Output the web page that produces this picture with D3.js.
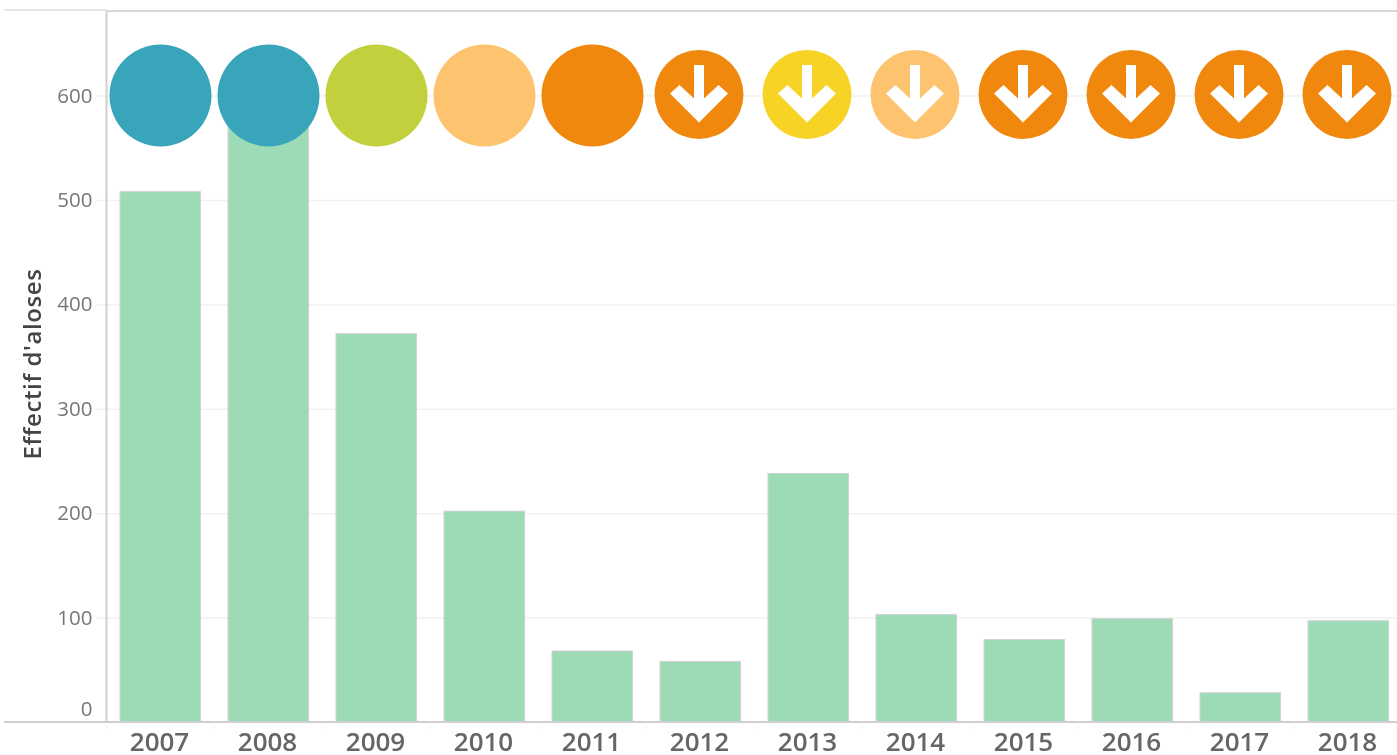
<!DOCTYPE html>
<html lang="fr">
<head>
<meta charset="utf-8">
<title>Effectif d'aloses</title>
<script src="https://cdn.jsdelivr.net/npm/d3@7"></script>
<style>
  html, body { margin: 0; padding: 0; background: #fff; overflow: hidden; }
  svg { display: block; filter: blur(0.5px); }
  text { font-family: "Open Sans", sans-serif; }
</style>
</head>
<body>
<script>
const years = ["2007", "2008", "2009", "2010", "2011", "2012", "2013", "2014", "2015", "2016", "2017", "2018"];
const counts = [508, 590, 372, 202, 68, 58, 238, 103, 79, 99, 28, 97];
const status = ["blue", "blue", "green", "pale", "orange", "orange", "yellow", "pale", "orange", "orange", "orange", "orange"];
const falling = [false, false, false, false, false, true, true, true, true, true, true, true];
const yTicks = [0, 100, 200, 300, 400, 500, 600];

const w = 1397;
const h = 755;
const left = 106.5;
const baseline = 722;

const xScale = d3.scaleBand()
  .domain(years)
  .range([left, left + 108 * years.length])
  .paddingInner(0.25)
  .paddingOuter(0.125);

const yScale = d3.scaleLinear()
  .domain([0, 600])
  .range([baseline, 95.6]);

const statusColor = d3.scaleOrdinal()
  .domain(["blue", "green", "pale", "orange", "yellow"])
  .range(["#39a5bb", "#c1d03c", "#fdc36f", "#f0880d", "#f6d325"]);

const svg = d3.select("body").append("svg")
  .attr("width", w)
  .attr("height", h);

// frame, top rule
svg.append("line")
  .attr("x1", 4).attr("x2", left)
  .attr("y1", 10).attr("y2", 10)
  .attr("stroke", "#e6e6e6").attr("stroke-width", 2);
svg.append("line")
  .attr("x1", left).attr("x2", w + 4)
  .attr("y1", 11).attr("y2", 11)
  .attr("stroke", "#d6d6d6").attr("stroke-width", 2);

// y axis with the long ticks used as grid lines
const yAxis = d3.axisLeft(yScale)
  .tickValues(yTicks.slice(1))
  .tickSize(-(w + 4 - left))
  .tickPadding(14);

const yG = svg.append("g")
  .attr("transform", "translate(" + left + ",0)")
  .call(yAxis);

yG.select(".domain").remove();
yG.selectAll(".tick line")
  .attr("x1", -10)
  .attr("stroke", "#f1f1f1")
  .attr("stroke-width", 1.5);
yG.selectAll(".tick text")
  .attr("font-size", 20.5)
  .attr("fill", "#777");

// the zero label sits above the base line
yG.append("text")
  .attr("x", -14)
  .attr("y", yScale(0) - 13)
  .attr("dy", "0.32em")
  .attr("text-anchor", "end")
  .attr("font-size", 20.5)
  .attr("fill", "#777")
  .text(yTicks[0]);

svg.append("line")
  .attr("x1", left).attr("x2", left)
  .attr("y1", 11).attr("y2", baseline)
  .attr("stroke", "#cfcfcf").attr("stroke-width", 2);

// bars
svg.selectAll("rect.bar")
  .data(years)
  .enter()
  .append("rect")
  .attr("class", "bar")
  .attr("x", (d) => xScale(d))
  .attr("y", (d, i) => yScale(counts[i]))
  .attr("width", xScale.bandwidth() - 0.5)
  .attr("height", (d, i) => baseline - yScale(counts[i]))
  .attr("fill", "#9cdbb5")
  .attr("stroke", "#d2d2d2")
  .attr("stroke-width", 1);

// x axis
const xAxis = d3.axisBottom(xScale)
  .tickSize(0)
  .tickPadding(11);

const xG = svg.append("g")
  .attr("transform", "translate(-1," + baseline + ")")
  .call(xAxis);

xG.select(".domain").remove();
xG.selectAll(".tick text")
  .attr("font-size", 26)
  .attr("font-weight", 600)
  .attr("fill", "#666");

svg.append("line")
  .attr("x1", 4).attr("x2", w + 4)
  .attr("y1", baseline).attr("y2", baseline)
  .attr("stroke", "#cfcfcf").attr("stroke-width", 2);

// small marks under the base line, between the years
svg.selectAll("line.notch")
  .data(years)
  .enter()
  .append("line")
  .attr("class", "notch")
  .attr("x1", (d) => xScale(d) - xScale.step() * 0.125)
  .attr("x2", (d) => xScale(d) - xScale.step() * 0.125)
  .attr("y1", baseline + 4)
  .attr("y2", baseline + 7)
  .attr("stroke", "#eeeeee");

// status badges
const badges = svg.selectAll("g.badge")
  .data(years)
  .enter()
  .append("g")
  .attr("class", "badge")
  .attr("transform", (d, i) => "translate(" + (xScale(d) + xScale.bandwidth() / 2 - (falling[i] ? 1.5 : 0)) + "," + (falling[i] ? 94.5 : 95.5) + ")");

badges.append("circle")
  .attr("r", (d, i) => falling[i] ? 44.5 : 51)
  .attr("fill", (d, i) => statusColor(status[i]));

const arrow = "M-5,-29.5L5,-29.5L5,4L19.5,-9.5L29,-1L0,28L-29,-1L-19.5,-9.5L-5,4Z";

badges.filter((d, i) => falling[i])
  .append("path")
  .attr("d", arrow)
  .attr("fill", "#fff");

// y title
svg.append("text")
  .attr("transform", "translate(41,364) rotate(-90)")
  .attr("text-anchor", "middle")
  .attr("font-size", 24)
  .attr("font-weight", 600)
  .attr("letter-spacing", 0.6)
  .attr("fill", "#444")
  .text("Effectif d'aloses");
</script>
</body>
</html>
